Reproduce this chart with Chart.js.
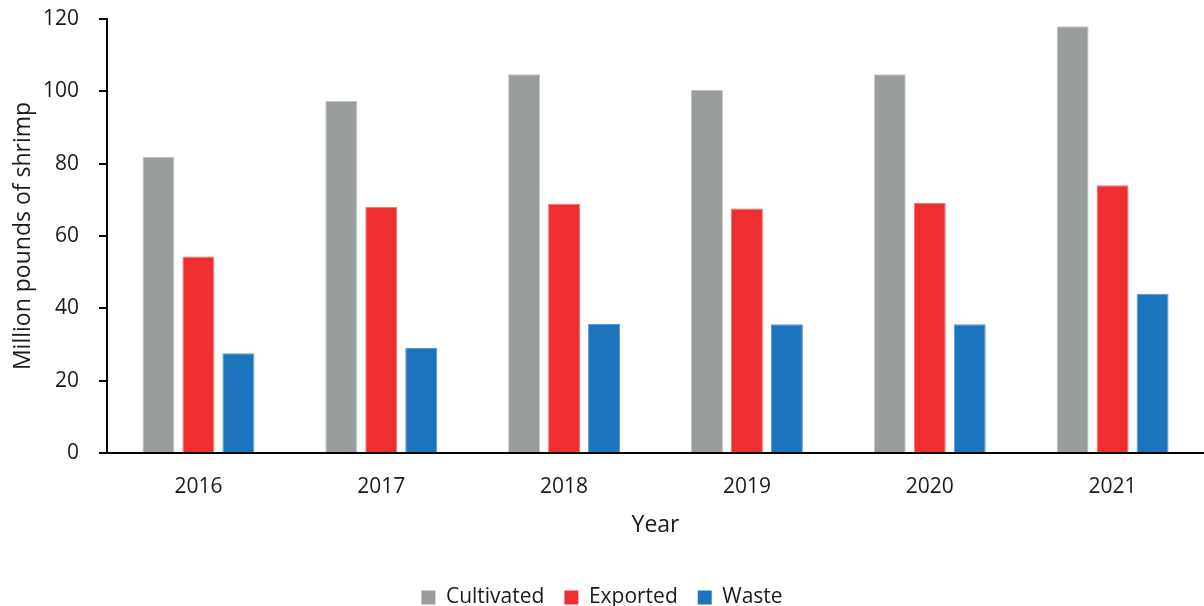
<!DOCTYPE html>
<html>
<head>
<meta charset="utf-8">
<script src="https://cdn.jsdelivr.net/npm/chart.js@4"></script>
<style>
  html, body { margin: 0; padding: 0; background: #fff; }
  #wrap { width: 1204px; height: 606px; }
</style>
</head>
<body>
<div id="wrap"><canvas id="shrimp-chart" width="1204" height="606"></canvas></div>
<script>
// shrimp volumes per year, million pounds
var years = ["2016", "2017", "2018", "2019", "2020", "2021"];
var cultivated = [81.9, 97.3, 104.7, 100.4, 104.7, 118.0];
var exported = [54.3, 68.1, 68.9, 67.6, 69.1, 74.0];
var waste = [27.6, 29.0, 35.7, 35.6, 35.6, 44.0];
var yTicks = [0, 20, 40, 60, 80, 100, 120];

var font = "'Open Sans', 'Noto Sans', sans-serif";
var ink = "#1a1a1a";

new Chart(document.getElementById("shrimp-chart"), {
  type: 'bar',
  data: {
    labels: years,
    datasets: [
      { label: "Cultivated", data: cultivated, backgroundColor: "#9a9d9d", borderColor: "#c4c6c6", borderWidth: 1 },
      { label: "Exported", data: exported, backgroundColor: "#ee2e2f", borderColor: "#f27373", borderWidth: 1 },
      { label: "Waste", data: waste, backgroundColor: "#1c75bc", borderColor: "#5c9bd2", borderWidth: 1 }
    ]
  },
  options: {
    responsive: false,
    animation: false,
    categoryPercentage: 0.656,
    barPercentage: 0.8,
    layout: { padding: { top: 19, right: 0, left: 0, bottom: -12 } },
    plugins: {
      tooltip: { enabled: false },
      legend: {
        position: 'bottom',
        labels: {
          boxWidth: 14, boxHeight: 14, padding: 20,
          color: ink,
          font: { family: font, size: 21 },
          generateLabels: function (chart) {
            // plain square swatches, no outline
            return Chart.defaults.plugins.legend.labels.generateLabels(chart).map(function (item) {
              item.lineWidth = 0;
              return item;
            });
          }
        }
      }
    },
    scales: {
      x: {
        // fixed band under the axis: tick labels, then the "Year" title
        afterFit: function (scale) { scale.height = 114; },
        grid: { display: true, drawOnChartArea: false, drawTicks: false },
        border: { display: true, color: "#000", width: 2 },
        ticks: { color: ink, padding: 21, font: { family: font, size: 21 } },
        title: {
          display: true, text: "Year", color: ink,
          font: { family: font, size: 23 },
          padding: { top: 10, bottom: 28 }
        }
      },
      y: {
        min: 0, max: 120,
        // fixed width, and let the top "120" label hang into the layout padding
        afterFit: function (scale) { scale.width = 107; scale.paddingTop = 0; },
        afterBuildTicks: function (axis) {
          axis.ticks = yTicks.map(function (v) { return { value: v }; });
        },
        grid: { display: true, drawOnChartArea: false, drawTicks: true, tickLength: 8, color: "#000", lineWidth: 2 },
        border: { display: true, color: "#000", width: 2 },
        ticks: { color: ink, padding: 20, font: { family: font, size: 21 } },
        title: {
          display: true, text: "Million pounds of shrimp", color: ink,
          font: { family: font, size: 23 },
          padding: { top: 10, bottom: 6 }
        }
      }
    }
  }
});
</script>
</body>
</html>
